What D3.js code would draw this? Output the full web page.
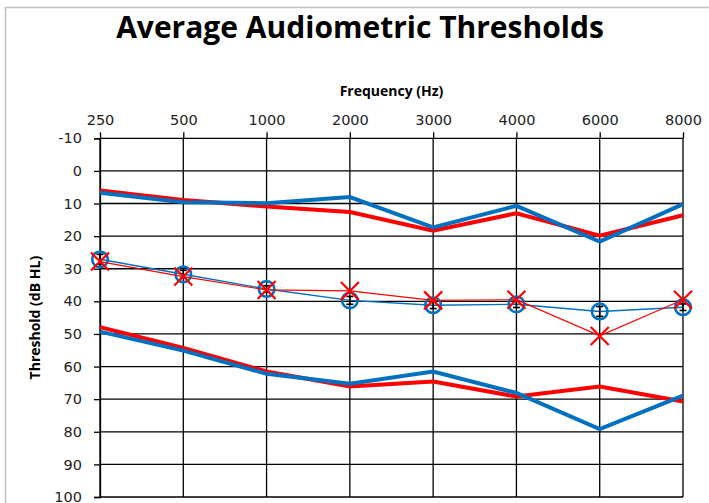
<!DOCTYPE html>
<html>
<head>
<meta charset="utf-8">
<script src="https://cdn.jsdelivr.net/npm/d3@7"></script>
<style>
  html, body { margin: 0; padding: 0; background: #fff; }
  svg { display: block; }
  .tick text { font-family: "DejaVu Sans", Verdana, sans-serif; font-size: 14.5px; fill: #222; }
  .ttl { font-family: "Open Sans", sans-serif; font-weight: bold; fill: #000; }
</style>
</head>
<body>
<div id="chart"></div>
<script>
// Audiogram: thresholds per test frequency (dB HL)
const freqs = ["250", "500", "1000", "2000", "3000", "4000", "6000", "8000"];
const yTicks = [-10, 0, 10, 20, 30, 40, 50, 60, 70, 80, 90, 100];

const redUpper  = [6.0, 8.9, 10.9, 12.6, 18.3, 13.0, 19.9, 13.6];
const blueUpper = [6.7, 9.6, 9.9, 8.0, 17.3, 10.7, 21.7, 10.2];
const redLower  = [47.9, 54.3, 61.5, 66.1, 64.6, 69.2, 66.1, 70.7];
const blueLower = [49.3, 55.1, 62.2, 65.3, 61.5, 68.1, 79.2, 68.9];
const blueMean  = [27.1, 31.7, 36.2, 39.7, 41.2, 40.9, 43.1, 41.8];
const blueErr   = [1.5, 1.2, 1.0, 1.2, 1.0, 1.0, 1.5, 1.0];
const redMean   = [27.8, 32.4, 36.5, 36.8, 39.7, 39.5, 50.6, 39.5];

const W = 709, H = 503;
const RED = "#ff0000", BLUE = "#0070c0";

const svg = d3.select("#chart").append("svg")
  .attr("width", W).attr("height", H);

// chart area frame (runs off the right / bottom edge like the screenshot)
svg.append("rect")
  .attr("x", 5.5).attr("y", 7.5).attr("width", 760).attr("height", 560)
  .attr("fill", "none").attr("stroke", "#bfbfbf").attr("stroke-width", 1.5);

const x = d3.scalePoint().domain(freqs).range([100, 683]);
const y = d3.scaleLinear().domain([-10, 100]).range([138.3, 497]);

// grid
const grid = svg.append("g").attr("stroke", "#000").attr("stroke-width", 1.3);
grid.selectAll("line.h").data(yTicks).join("line")
  .attr("x1", x.range()[0]).attr("x2", x.range()[1])
  .attr("y1", d => y(d)).attr("y2", d => y(d));
grid.selectAll("line.v").data(freqs).join("line")
  .attr("x1", d => x(d)).attr("x2", d => x(d))
  .attr("y1", y(-10)).attr("y2", y(100));

// axes: ticks stick outwards, labels left and on top
const yAxis = svg.append("g").attr("transform", `translate(${x.range()[0]},0)`)
  .call(d3.axisLeft(y).tickValues(yTicks).tickSize(6).tickPadding(12).tickFormat(d => String(d)));
const xAxis = svg.append("g").attr("transform", `translate(0,${y(-10)})`)
  .call(d3.axisTop(x).tickSize(6).tickPadding(7));
[yAxis, xAxis].forEach(a => {
  a.select(".domain").attr("stroke", "#000").attr("stroke-width", 1.3);
  a.selectAll(".tick line").attr("stroke", "#000").attr("stroke-width", 1.3);
});
xAxis.select(".domain").remove();

const line = d3.line().x((d, i) => x(freqs[i])).y(d => y(d));

function thick(data, color) {
  svg.append("path").datum(data)
    .attr("d", line).attr("fill", "none")
    .attr("stroke", color).attr("stroke-width", 4).attr("stroke-linejoin", "miter");
}
thick(redUpper, RED);
thick(blueUpper, BLUE);
thick(redLower, RED);
thick(blueLower, BLUE);

// blue mean + circles + error bars
svg.append("path").datum(blueMean)
  .attr("d", line).attr("fill", "none").attr("stroke", BLUE).attr("stroke-width", 1.4);
svg.append("g").selectAll("circle").data(blueMean).join("circle")
  .attr("cx", (d, i) => x(freqs[i])).attr("cy", d => y(d)).attr("r", 7.8)
  .attr("fill", "none").attr("stroke", BLUE).attr("stroke-width", 2.6);
const eb = svg.append("g").attr("stroke", "#000").attr("stroke-width", 1.6);
blueMean.forEach((m, i) => {
  const cx = x(freqs[i]), y0 = y(m - blueErr[i]), y1 = y(m + blueErr[i]);
  eb.append("line").attr("x1", cx).attr("x2", cx).attr("y1", y0).attr("y2", y1);
  eb.append("line").attr("x1", cx - 3.5).attr("x2", cx + 3.5).attr("y1", y0).attr("y2", y0);
  eb.append("line").attr("x1", cx - 3.5).attr("x2", cx + 3.5).attr("y1", y1).attr("y2", y1);
});

// red mean + X markers
svg.append("path").datum(redMean)
  .attr("d", line).attr("fill", "none").attr("stroke", RED).attr("stroke-width", 1.2);
const s = 9;
svg.append("g").selectAll("path").data(redMean).join("path")
  .attr("d", (d, i) => {
    const cx = x(freqs[i]), cy = y(d);
    return `M${cx - s},${cy - s}L${cx + s},${cy + s}M${cx - s},${cy + s}L${cx + s},${cy - s}`;
  })
  .attr("fill", "none").attr("stroke", RED).attr("stroke-width", 2.2);

// titles
svg.append("text").attr("class", "ttl")
  .attr("x", 360).attr("y", 38).attr("text-anchor", "middle").attr("font-size", 30)
  .text("Average Audiometric Thresholds");
svg.append("text").attr("class", "ttl")
  .attr("x", (x.range()[0] + x.range()[1]) / 2).attr("y", 96)
  .attr("text-anchor", "middle").attr("font-size", 14)
  .text("Frequency (Hz)");
svg.append("text").attr("class", "ttl")
  .attr("transform", `translate(40,${(y(-10) + y(100)) / 2}) rotate(-90)`)
  .attr("text-anchor", "middle").attr("font-size", 14)
  .text("Threshold (dB HL)");
</script>
</body>
</html>
